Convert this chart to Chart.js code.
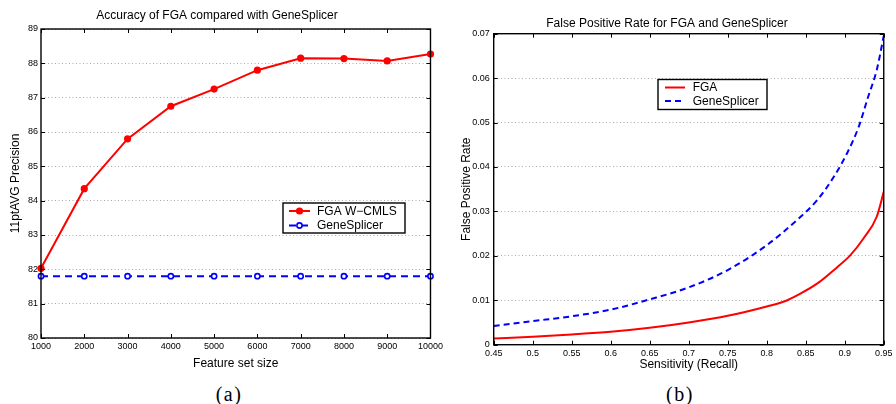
<!DOCTYPE html>
<html>
<head>
    <meta charset="utf-8">
    <title>FGA vs GeneSplicer</title>
    <script src="https://cdn.jsdelivr.net/npm/chart.js@4"></script>
    <style>
        body {
            margin: 0;
            background: #fff;
            width: 896px;
            height: 404px;
            position: relative;
            overflow: hidden;
        }
        .panel {
            position: absolute;
            top: 0;
        }
        #leftPanel { left: 0; }
        #rightPanel { left: 446px; }
        .caption {
            position: absolute;
            top: 383px;
            width: 60px;
            text-align: center;
            font-family: "Liberation Serif", "Times New Roman", serif;
            font-size: 20px;
            letter-spacing: 1.5px;
        }
    </style>
</head>
<body>
    <div class="panel" id="leftPanel"><canvas id="accuracyChart" width="446" height="375"></canvas></div>
    <div class="panel" id="rightPanel"><canvas id="fprChart" width="450" height="375"></canvas></div>
    <div class="caption" style="left:199px;">(a)</div>
    <div class="caption" style="left:650px;">(b)</div>

    <script>
        // (a) precision vs feature set size
        const featureSizes = [1000, 2000, 3000, 4000, 5000, 6000, 7000, 8000, 9000, 10000];
        const fgaPrecision = [82.03, 84.35, 85.8, 86.75, 87.25, 87.8, 88.15, 88.14, 88.07, 88.27];
        const geneSplicerPrecision = [81.8, 81.8, 81.8, 81.8, 81.8, 81.8, 81.8, 81.8, 81.8, 81.8];

        // (b) false positive rate vs sensitivity
        const fgaRecall = [0.45, 0.5, 0.55, 0.6, 0.65, 0.7, 0.75, 0.8, 0.825, 0.84, 0.865, 0.89, 0.907, 0.924, 0.941, 0.95];
        const fgaFpr = [0.0014, 0.0018, 0.0023, 0.0029, 0.0038, 0.0050, 0.0065, 0.0086, 0.0099, 0.0112, 0.0138, 0.0174, 0.0201, 0.0239, 0.0288, 0.0344];
        const gsRecall = [0.45, 0.5, 0.55, 0.6, 0.65, 0.7, 0.75, 0.8, 0.839, 0.865, 0.886, 0.903, 0.918, 0.93, 0.941, 0.95];
        const gsFpr = [0.0042, 0.0053, 0.0064, 0.0079, 0.0102, 0.0129, 0.0168, 0.0224, 0.0281, 0.0326, 0.0378, 0.0431, 0.0491, 0.0558, 0.0618, 0.0695];

        Chart.defaults.font.family = '"Liberation Sans", Arial, sans-serif';
        Chart.defaults.color = '#000';

        const toPoints = (xs, ys) => xs.map((x, i) => ({ x: x, y: ys[i] }));
        const plainNum = v => String(+Number(v).toFixed(2));

        // black box round the plot area with small inward ticks on every side
        const framePlugin = {
            id: 'frame',
            afterDatasetsDraw(chart) {
                const { ctx, chartArea: a, scales: { x, y } } = chart;
                const len = 4;
                ctx.save();
                ctx.strokeStyle = '#000';
                ctx.lineWidth = 1;
                ctx.beginPath();
                x.ticks.forEach(t => {
                    const px = Math.round(x.getPixelForValue(t.value)) + 0.5;
                    ctx.moveTo(px, a.top); ctx.lineTo(px, a.top + len);
                    ctx.moveTo(px, a.bottom); ctx.lineTo(px, a.bottom - len);
                });
                y.ticks.forEach(t => {
                    const py = Math.round(y.getPixelForValue(t.value)) + 0.5;
                    ctx.moveTo(a.left, py); ctx.lineTo(a.left + len, py);
                    ctx.moveTo(a.right, py); ctx.lineTo(a.right - len, py);
                });
                ctx.stroke();
                ctx.lineWidth = 1.4;
                ctx.strokeRect(a.left, a.top, a.right - a.left, a.bottom - a.top);
                ctx.restore();
            }
        };

        // boxed legend placed inside the axes
        const boxLegendPlugin = {
            id: 'boxLegend',
            afterDraw(chart, args, opts) {
                const ctx = chart.ctx;
                const [x0, y0, x1, y1] = opts.box;
                ctx.save();
                ctx.fillStyle = '#fff';
                ctx.fillRect(x0, y0, x1 - x0, y1 - y0);
                ctx.strokeStyle = '#000';
                ctx.lineWidth = 1.4;
                ctx.strokeRect(x0, y0, x1 - x0, y1 - y0);
                chart.data.datasets.forEach((ds, i) => {
                    const ry = opts.rows[i];
                    ctx.strokeStyle = ds.borderColor;
                    ctx.lineWidth = ds.borderWidth;
                    ctx.setLineDash(ds.borderDash || []);
                    ctx.beginPath();
                    ctx.moveTo(opts.lineX[0], ry);
                    ctx.lineTo(opts.lineX[1], ry);
                    ctx.stroke();
                    ctx.setLineDash([]);
                    if (ds.pointRadius > 0) {
                        const mx = (opts.lineX[0] + opts.lineX[1]) / 2;
                        ctx.beginPath();
                        ctx.arc(mx, ry, ds.pointRadius, 0, Math.PI * 2);
                        ctx.fillStyle = ds.pointBackgroundColor;
                        ctx.fill();
                        if (ds.pointBorderWidth > 0) {
                            ctx.lineWidth = ds.pointBorderWidth;
                            ctx.strokeStyle = ds.borderColor;
                            ctx.stroke();
                        }
                    }
                    ctx.fillStyle = '#000';
                    ctx.font = '12px "Liberation Sans", Arial, sans-serif';
                    ctx.textBaseline = 'middle';
                    ctx.fillText(ds.label, opts.textX, ry + 0.5);
                });
                ctx.restore();
            }
        };

        const tickFont = { size: 9 };
        const labelFont = { size: 12 };
        const dottedGrid = { color: '#a8a8a8', lineWidth: 1, drawTicks: false };

        new Chart(document.getElementById('accuracyChart'), {
            type: 'line',
            data: {
                datasets: [{
                    label: 'FGA W\u2212CMLS',
                    data: toPoints(featureSizes, fgaPrecision),
                    borderColor: '#ff0000',
                    borderWidth: 2,
                    pointRadius: 3.6,
                    pointBackgroundColor: '#ff0000',
                    pointBorderWidth: 0,
                    clip: false
                }, {
                    label: 'GeneSplicer',
                    data: toPoints(featureSizes, geneSplicerPrecision),
                    borderColor: '#0000ff',
                    borderWidth: 2,
                    borderDash: [7, 5],
                    pointRadius: 2.6,
                    pointBackgroundColor: '#ffffff',
                    pointBorderColor: '#0000ff',
                    pointBorderWidth: 1.6,
                    clip: false
                }]
            },
            options: {
                responsive: false,
                animation: false,
                layout: { padding: { left: 0, right: 12, top: 0, bottom: 0 } },
                plugins: {
                    legend: { display: false },
                    tooltip: { enabled: false },
                    title: {
                        display: true,
                        text: 'Accuracy of FGA compared with GeneSplicer',
                        color: '#000',
                        font: { size: 12, weight: 'normal' },
                        padding: { top: 8.8, bottom: 5.8 }
                    },
                    boxLegend: {
                        box: [283, 203, 405, 233],
                        rows: [211, 225.5],
                        lineX: [289, 310],
                        textX: 317
                    }
                },
                scales: {
                    x: {
                        type: 'linear',
                        min: 1000,
                        max: 10000,
                        ticks: { stepSize: 1000, autoSkip: false, maxRotation: 0, font: tickFont, padding: 3, callback: plainNum },
                        grid: { display: false, drawTicks: false },
                        border: { display: false },
                        title: { display: true, text: 'Feature set size', font: labelFont, padding: { top: 0, bottom: 3.8 } },
                        afterFit(scale) { scale.height = 37; }
                    },
                    y: {
                        min: 80,
                        max: 89,
                        ticks: { stepSize: 1, font: tickFont, padding: 3, callback: plainNum },
                        grid: dottedGrid,
                        border: { display: false, dash: [1, 2.5] },
                        title: { display: true, text: '11ptAVG Precision', font: labelFont, padding: { top: 8.5, bottom: 0 } },
                        afterFit(scale) { scale.width = 41; }
                    }
                }
            },
            plugins: [framePlugin, boxLegendPlugin]
        });

        new Chart(document.getElementById('fprChart'), {
            type: 'line',
            data: {
                datasets: [{
                    label: 'FGA',
                    data: toPoints(fgaRecall, fgaFpr),
                    borderColor: '#ff0000',
                    borderWidth: 2,
                    pointRadius: 0,
                    cubicInterpolationMode: 'monotone'
                }, {
                    label: 'GeneSplicer',
                    data: toPoints(gsRecall, gsFpr),
                    borderColor: '#0000ff',
                    borderWidth: 2,
                    borderDash: [6, 4],
                    pointRadius: 0,
                    cubicInterpolationMode: 'monotone'
                }]
            },
            options: {
                responsive: false,
                animation: false,
                layout: { padding: { left: 0, right: 8, top: 0, bottom: 0 } },
                plugins: {
                    legend: { display: false },
                    tooltip: { enabled: false },
                    title: {
                        display: true,
                        text: 'False Positive Rate for FGA and GeneSplicer',
                        color: '#000',
                        font: { size: 12, weight: 'normal' },
                        padding: { top: 16.1, bottom: 3.2 }
                    },
                    boxLegend: {
                        box: [212, 79.5, 321, 109.5],
                        rows: [87.5, 101],
                        lineX: [219, 239],
                        textX: 246.7
                    }
                },
                scales: {
                    x: {
                        type: 'linear',
                        min: 0.45,
                        max: 0.95,
                        ticks: { stepSize: 0.05, autoSkip: false, maxRotation: 0, font: tickFont, padding: 3.5, callback: plainNum },
                        grid: { display: false, drawTicks: false },
                        border: { display: false },
                        title: { display: true, text: 'Sensitivity (Recall)', font: labelFont, padding: { top: 0, bottom: 2.8 } },
                        afterFit(scale) { scale.height = 30.3; }
                    },
                    y: {
                        min: 0,
                        max: 0.07,
                        ticks: { stepSize: 0.01, font: tickFont, padding: 4, callback: plainNum },
                        grid: dottedGrid,
                        border: { display: false, dash: [1, 2.5] },
                        title: { display: true, text: 'False Positive Rate', font: labelFont, padding: { top: 13.5, bottom: 0 } },
                        afterFit(scale) { scale.width = 47.7; }
                    }
                }
            },
            plugins: [framePlugin, boxLegendPlugin]
        });
    </script>
</body>
</html>
